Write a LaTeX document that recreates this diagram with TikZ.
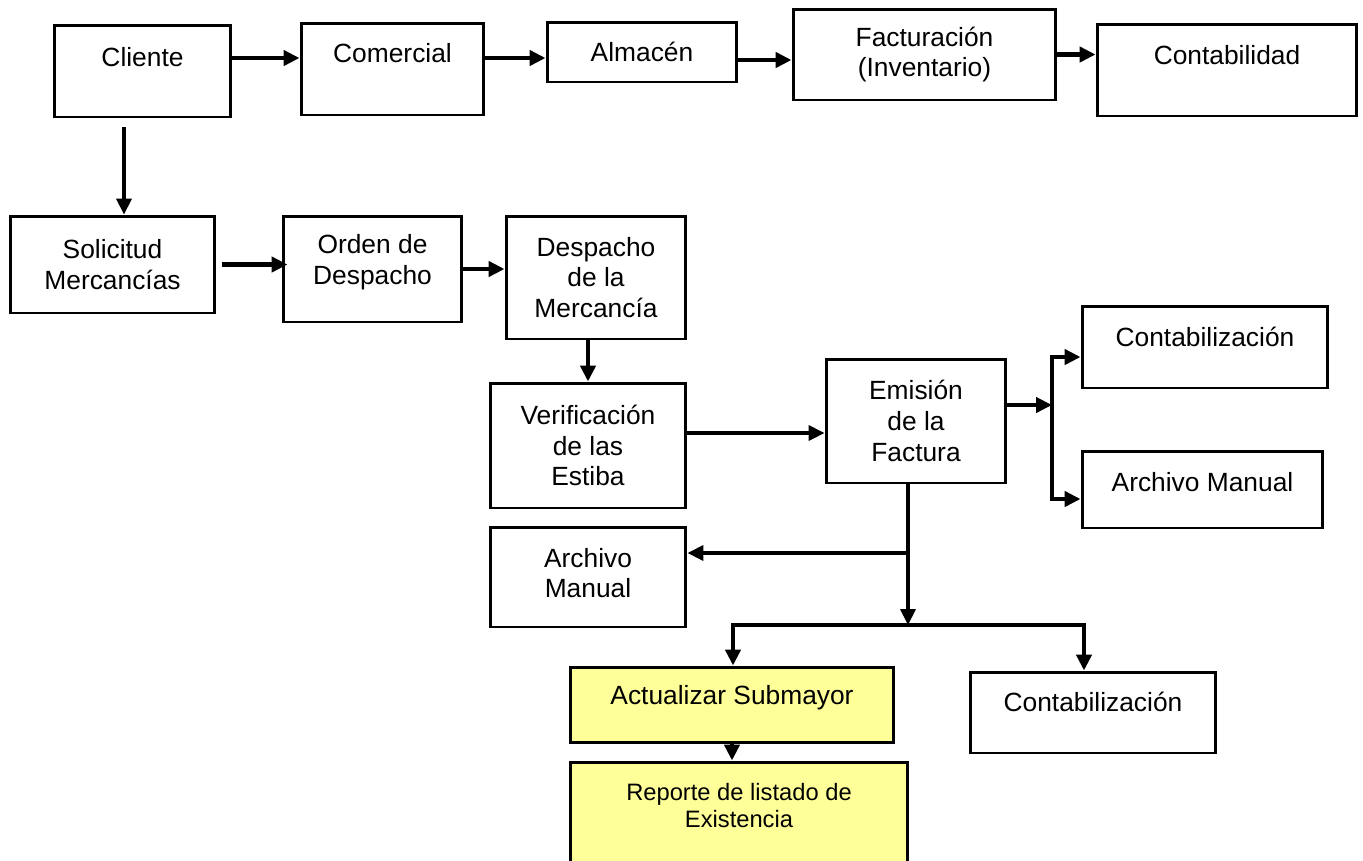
\documentclass[tikz,border=0pt]{standalone}
\usepackage{fontspec}
\setmainfont{Liberation Sans}
\usepackage{tikz}
\usetikzlibrary{arrows.meta}
\definecolor{noteColor}{RGB}{255,255,153}

\begin{document}
\begin{tikzpicture}[x=0.02cm, y=-0.02cm]

            \tikzstyle{processBox} = [rectangle, draw, black, line width=1.7pt, align=center, inner sep=0pt, font=\fontsize{15}{17.5}\selectfont];
            \tikzstyle{noteBox} = [processBox, fill=noteColor];
            \tikzstyle{boxText} = [align=center, inner sep=0pt, font=\fontsize{15}{17.5}\selectfont];
            \tikzstyle{thickEdge} = [line width=2.6pt, -{Triangle[length=9pt, width=8.5pt]}];
            \tikzstyle{thinEdge} = [line width=2pt, -{Triangle[length=9pt, width=8.5pt]}];

            \useasboundingbox (0,0) rectangle (1363,860);
            \clip (0,0) rectangle (1363,860);

            % first row
            \node[processBox, minimum width=3.54cm, minimum height=1.84cm] (cliente) at (142.5,71) {};
            \node[boxText] (clienteT) at ([yshift=0.28cm]cliente.center) {Cliente};
            \node[processBox, minimum width=3.66cm, minimum height=1.84cm] (comercial) at (392.5,69) {};
            \node[boxText] (comercialT) at ([yshift=0.32cm]comercial.center) {Comercial};
            \node[processBox, minimum width=3.8cm, minimum height=1.2cm] (almacen) at (642,52) {Almacén};
            \node[processBox, minimum width=5.26cm, minimum height=1.82cm] (facturacion) at (924.5,54.5) {Facturación\\(Inventario)};
            \node[processBox, minimum width=5.2cm, minimum height=1.84cm] (contabilidad) at (1227,70) {};
            \node[boxText] (contabilidadT) at ([yshift=0.3cm]contabilidad.center) {Contabilidad};

            % second row
            \node[processBox, minimum width=4.1cm, minimum height=1.94cm] (solicitud) at (112.5,264.5) {Solicitud\\Mercancías};
            \node[processBox, minimum width=3.58cm, minimum height=2.12cm] (orden) at (372.5,269) {};
            \node[boxText] (ordenT) at ([yshift=0.14cm]orden.center) {Orden de\\Despacho};
            \node[processBox, minimum width=3.6cm, minimum height=2.46cm] (despacho) at (596,277.5) {Despacho\\de la\\Mercancía};

            % invoice part
            \node[processBox, minimum width=3.92cm, minimum height=2.5cm] (verificacion) at (588,445.5) {Verificación\\de las\\Estiba};
            \node[processBox, minimum width=3.6cm, minimum height=2.48cm] (emision) at (916,421) {Emisión\\de la\\Factura};
            \node[processBox, minimum width=3.92cm, minimum height=2cm] (archivoA) at (588,577) {};
            \node[boxText] (archivoAT) at ([yshift=0.08cm]archivoA.center) {Archivo\\Manual};
            \node[processBox, minimum width=4.92cm, minimum height=1.64cm] (contabA) at (1205,347) {};
            \node[boxText] (contabAT) at ([yshift=0.2cm]contabA.center) {Contabilización};
            \node[processBox, minimum width=4.82cm, minimum height=1.54cm] (archivoB) at (1202.5,489.5) {};
            \node[boxText] (archivoBT) at ([yshift=0.15cm]archivoB.center) {Archivo Manual};

            % last row
            \node[noteBox, minimum width=6.48cm, minimum height=1.5cm] (actualizar) at (732,704.5) {};
            \node[boxText] (actualizarT) at ([yshift=0.13cm]actualizar.center) {Actualizar Submayor};
            \node[noteBox, minimum width=6.76cm, minimum height=2.76cm] (reporte) at (739,831) {};
            \node[boxText, font=\fontsize{13.5}{15.5}\selectfont] (reporteT) at ([yshift=0.51cm]reporte.center) {Reporte de listado de\\Existencia};
            \node[processBox, minimum width=4.92cm, minimum height=1.62cm] (contabB) at (1093,712.5) {};
            \node[boxText] (contabBT) at ([yshift=0.21cm]contabB.center) {Contabilización};

            \coordinate (split) at (908,553);
            \coordinate (busM) at (908,625);
            \coordinate (busL) at (733,625);
            \coordinate (busR) at (1084,625);
            \coordinate (forkT) at (1052,357);
            \coordinate (forkB) at (1052,499);

            \draw[thickEdge] ([yshift=0.26cm]cliente.east) -- ([yshift=0.26cm]cliente.east -| comercial.west);
            \draw[thickEdge] ([yshift=0.22cm]comercial.east) -- ([yshift=0.22cm]comercial.east -| almacen.west);
            \draw[thickEdge] ([yshift=-0.16cm]almacen.east) -- ([yshift=-0.16cm]almacen.east -| facturacion.west);
            \draw[thickEdge] (facturacion.east) -- (facturacion.east -| contabilidad.west);

            \draw[thinEdge] ([xshift=-0.37cm, yshift=-0.18cm]cliente.south) -- ([xshift=-0.37cm]cliente.south |- solicitud.north);
            \draw[thickEdge] ([xshift=0.12cm]solicitud.east) -- ([xshift=0.12cm]solicitud.east -| orden.west);
            \draw[thickEdge] (orden.east) -- (orden.east -| despacho.west);
            \draw[thickEdge] (verificacion.north |- despacho.south) -- (verificacion.north);
            \draw[thinEdge] ([yshift=0.25cm]verificacion.east) -- ([yshift=0.25cm]verificacion.east -| emision.west);

            \draw[thickEdge] ([yshift=0.32cm]emision.east) -- ([yshift=0.32cm]emision.east -| forkT);
            \draw[thickEdge, {Triangle[length=9pt, width=8.5pt]}-{Triangle[length=9pt, width=8.5pt]}] (forkT -| contabA.west) -- (forkT) -- (forkB) -- (forkB -| archivoB.west);

            \draw[thinEdge] (split |- emision.south) -- (busM);
            \draw[thinEdge] (split) -- (split -| archivoA.east);
            \draw[thickEdge, {Triangle[length=9pt, width=8.5pt]}-{Triangle[length=9pt, width=8.5pt]}] (busL |- actualizar.north) -- (busL) -- (busR) -- (busR |- contabB.north);
            \draw[thickEdge] (actualizar.south) -- (actualizar.south |- reporte.north);
          \end{tikzpicture}
\end{document}
